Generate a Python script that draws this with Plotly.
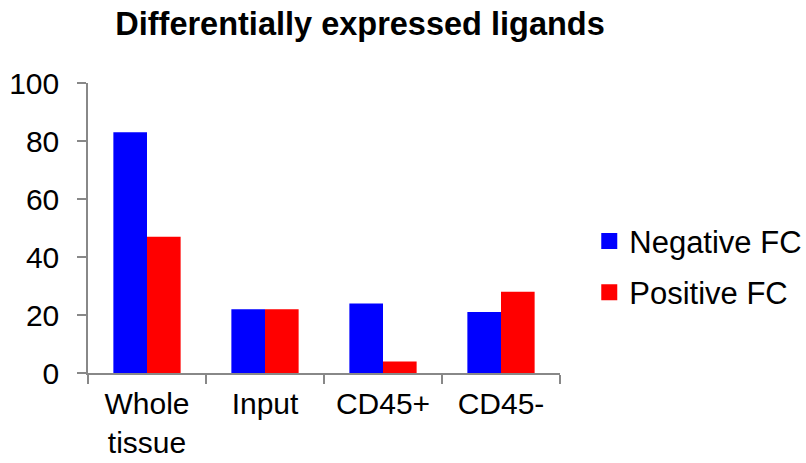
import plotly.graph_objects as go

# Counts of differentially expressed ligands per sample type
categories = ["Whole<br>tissue", "Input", "CD45+", "CD45-"]
negative_fc = [83, 22, 24, 21]
positive_fc = [47, 22, 4, 28]

series_names = ["Negative FC", "Positive FC"]
series_colors = ["#0000FF", "#FF0000"]

y_ticks = [0, 20, 40, 60, 80, 100]

FONT = "Liberation Sans, Arial, sans-serif"
AXIS_GREY = "#888888"

fig = go.Figure()

for name, vals, color in zip(series_names, [negative_fc, positive_fc], series_colors):
    fig.add_trace(go.Bar(
        x=categories, y=vals, name=name,
        marker=dict(color=color, line=dict(width=0)),
        showlegend=False,
    ))

# Legend entries drawn as square markers so the swatches are larger
for i, (name, color) in enumerate(zip(series_names, series_colors)):
    fig.add_trace(go.Scatter(
        x=[None], y=[None], mode="markers", name=name,
        marker=dict(symbol="square", size=16, color=color),
        legendgroup=f"g{i}", showlegend=True,
    ))

fig.update_layout(
    width=806, height=463,
    margin=dict(l=88, r=246, t=83, b=90, autoexpand=False),
    paper_bgcolor="white", plot_bgcolor="white",
    barmode="group", bargap=0.43, bargroupgap=0,
    font=dict(family=FONT, size=30, color="black"),
    title=dict(
        text="<b>Differentially expressed ligands</b>",
        font=dict(family=FONT, size=32.5, color="black"),
        x=360 / 806, xanchor="center", xref="container",
        y=1 - 24 / 463, yanchor="middle", yref="container",
    ),
    legend=dict(
        x=1.062, xanchor="left", y=0.366, yanchor="middle",
        font=dict(family=FONT, size=31, color="black"),
        itemsizing="trace", traceorder="grouped", tracegroupgap=8,
        bgcolor="rgba(0,0,0,0)",
    ),
)

fig.update_xaxes(
    automargin=False,
    showline=True, linecolor=AXIS_GREY, linewidth=1.5,
    ticks="outside", tickson="boundaries", ticklen=9,
    tickcolor=AXIS_GREY, tickwidth=1.5,
    tickfont=dict(family=FONT, size=30, color="black"),
    ticklabelstandoff=3,
    showgrid=False, zeroline=False,
)
fig.update_yaxes(
    automargin=False,
    range=[0, 100], tickvals=y_ticks,
    showline=True, linecolor=AXIS_GREY, linewidth=1.5,
    ticks="outside", ticklen=9, tickcolor=AXIS_GREY, tickwidth=1.5,
    tickfont=dict(family=FONT, size=30, color="black"),
    ticklabelstandoff=12,
    showgrid=False, zeroline=False,
)

fig.write_html("out.html")
